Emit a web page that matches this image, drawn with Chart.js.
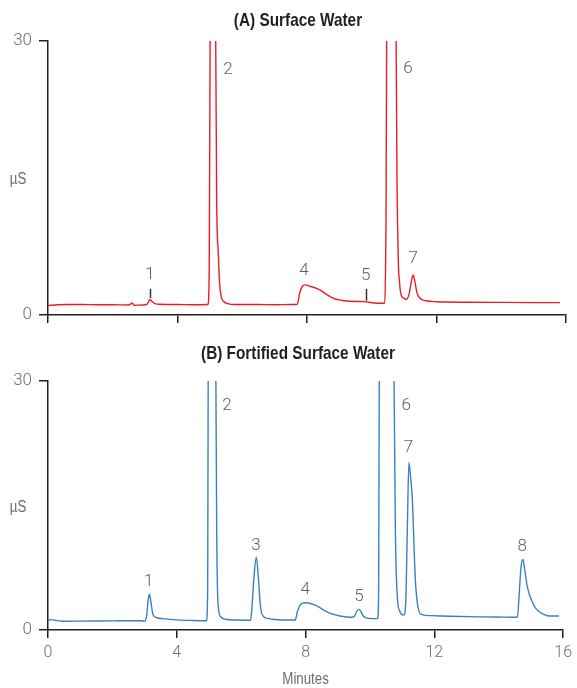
<!DOCTYPE html>
<html>
<head>
<meta charset="utf-8">
<script src="https://cdn.jsdelivr.net/npm/chart.js@4"></script>
<style>
  html, body { margin: 0; padding: 0; background: #ffffff; }
  .panel { position: absolute; left: 0; width: 577px; }
</style>
</head>
<body>
<div class="panel" style="top:0;height:340px"><canvas id="cA" width="577" height="340" style="width:577px;height:340px"></canvas></div>
<div class="panel" style="top:330px;height:358px"><canvas id="cB" width="577" height="358" style="width:577px;height:358px"></canvas></div>
<script>
// ---------- DATA ----------
const titleA = "(A) Surface Water";
const titleB = "(B) Fortified Surface Water";
const xTicks = [0, 4, 8, 12, 16];
const yTicks = [0, 30];
const xAxisTitle = "Minutes";
const yAxisTitle = "µS";

// Panel A trace (minutes, µS)
const timeA = [0.00,0.30,0.60,1.00,1.50,2.00,2.50,2.60,2.66,2.75,3.05,3.10,3.15,3.22,3.30,3.45,4.00,4.50,4.94,4.98,5.05,5.08,5.14,5.21,5.26,5.30,5.35,5.42,5.55,5.80,6.50,7.00,7.50,7.70,7.78,7.86,7.94,8.10,8.40,8.60,8.80,9.00,9.22,9.50,9.79,10.00,10.25,10.38,10.44,10.50,10.62,10.70,10.78,10.82,10.86,10.90,10.97,11.08,11.16,11.23,11.28,11.33,11.40,11.49,11.60,11.70,12.00,12.31,13.00,14.00,15.00,15.81];
const valueA = [1.05,1.12,1.15,1.15,1.13,1.12,1.10,1.32,1.05,1.08,1.15,1.40,1.70,1.45,1.25,1.18,1.15,1.13,1.15,5.0,70,75,55,12.6,6.8,3.5,2.0,1.5,1.25,1.15,1.15,1.12,1.15,1.18,2.5,3.15,3.30,3.15,2.75,2.25,1.85,1.65,1.53,1.48,1.46,1.35,1.28,1.28,10,70,90,60,15,6.0,3.5,2.3,1.9,1.72,2.4,3.8,4.38,3.7,2.4,1.83,1.62,1.53,1.45,1.42,1.40,1.38,1.36,1.35];

// Panel B trace (minutes, µS)
const timeB = [0.00,0.10,0.25,0.45,1.00,2.00,2.90,3.00,3.06,3.11,3.15,3.20,3.25,3.32,3.40,3.56,4.00,4.50,4.92,4.96,5.00,5.10,5.18,5.24,5.28,5.36,5.52,5.80,6.29,6.33,6.40,6.47,6.53,6.60,6.70,6.85,6.96,7.30,7.68,7.75,7.85,7.99,8.30,8.50,8.71,9.07,9.43,9.52,9.58,9.66,9.72,9.79,9.95,10.24,10.27,10.32,10.50,10.68,10.79,10.85,10.93,11.05,11.11,11.16,11.21,11.26,11.32,11.37,11.41,11.49,11.59,11.90,12.50,13.50,14.20,14.58,14.63,14.69,14.75,14.81,14.87,14.95,15.04,15.15,15.30,15.45,15.56,15.87];
const valueB = [1.18,1.25,1.15,1.06,1.07,1.10,1.12,1.05,1.6,3.6,4.3,3.3,2.0,1.6,1.45,1.37,1.22,1.15,1.12,5,70,80,55,12,3.2,1.6,1.29,1.2,1.18,2.5,6.5,8.76,6.5,2.8,1.6,1.38,1.29,1.2,1.2,2.3,3.1,3.29,3.0,2.55,2.09,1.69,1.53,1.65,2.2,2.49,2.2,1.69,1.40,1.37,5,70,90,60,12,4.0,2.2,1.8,3.2,12,20.2,18.5,15.5,10,6.0,2.8,1.89,1.73,1.65,1.58,1.55,1.53,4.0,7.5,8.5,7.2,5.6,4.3,3.4,2.6,2.09,1.8,1.69,1.69];

// Peak labels (position in minutes / µS)
const peakNamesA = ["1","2","4","5","6","7"];
const peakXA = [3.15,5.56,7.91,9.81,11.12,11.28];
const peakYA = [4.38,26.84,4.82,4.27,26.95,6.13];
// small marker strokes under labels 1 and 5 in panel A
const markXA = [3.15,9.81];
const markTopA = [2.85,2.85];
const markBotA = [1.86,1.57];

const peakNamesB = ["1","2","3","4","5","6","7","8"];
const peakXB = [3.13,5.56,6.46,7.99,9.66,11.13,11.20,14.73];
const peakYB = [5.8,27.0,10.2,4.82,4.0,27.0,21.9,10.0];

// ---------- STYLE ----------
const AXIS = "#231f20";
const GRAYTXT = "#6d6d6d";
const NUMFONT = "Roboto, 'Liberation Sans', sans-serif";
const SANS = "'Liberation Sans', Arial, sans-serif";
const CONDENSE = 0.83;

function condensedText(ctx, txt, x, y) {
  ctx.save();
  ctx.translate(x, y);
  ctx.scale(CONDENSE, 1);
  ctx.fillText(txt, 0, 0);
  ctx.restore();
}

function textPlugin(cfg) {
  return {
    id: 'panelText' + cfg.key,
    afterDraw(chart) {
      const ctx = chart.ctx;
      const xs = chart.scales.x, ys = chart.scales.y;
      const ca = chart.chartArea;
      ctx.save();
      ctx.textAlign = "center";
      ctx.textBaseline = "middle";
      // title
      ctx.fillStyle = "#231f20";
      ctx.font = "bold 18.5px " + SANS;
      condensedText(ctx, cfg.title, 298, cfg.titleY);
      // y-axis title (horizontal)
      ctx.fillStyle = GRAYTXT;
      ctx.font = "16px " + SANS;
      condensedText(ctx, yAxisTitle, 18, (ca.top + ca.bottom) / 2 + 2);
      // x-axis title
      if (cfg.xTitle) {
        condensedText(ctx, xAxisTitle, (ca.left + ca.right) / 2, cfg.xTitleY);
      }
      // peak labels
      ctx.font = "300 17px " + NUMFONT;
      ctx.fillStyle = "#5f5f5f";
      cfg.names.forEach((n, i) => {
        ctx.fillText(n, xs.getPixelForValue(cfg.px[i]), ys.getPixelForValue(cfg.py[i]));
      });
      // marker strokes
      if (cfg.mx) {
        ctx.strokeStyle = "#333333";
        ctx.lineWidth = 1.5;
        cfg.mx.forEach((x, i) => {
          const px = Math.round(xs.getPixelForValue(x)) + 0.5;
          ctx.beginPath();
          ctx.moveTo(px, ys.getPixelForValue(cfg.mt[i]));
          ctx.lineTo(px, ys.getPixelForValue(cfg.mb[i]));
          ctx.stroke();
        });
      }
      ctx.restore();
    }
  };
}

function makeChart(id, times, values, color, opts) {
  const pts = times.map((t, i) => ({ x: t, y: values[i] }));
  return new Chart(document.getElementById(id), {
    type: 'line',
    data: { datasets: [{ data: pts, borderColor: color, borderWidth: 1.4, pointRadius: 0, fill: false, cubicInterpolationMode: 'monotone' }] },
    options: {
      responsive: false,
      animation: false,
      devicePixelRatio: 1,
      layout: { padding: { top: opts.padTop, right: 11, left: 0, bottom: 0 } },
      plugins: { legend: { display: false }, tooltip: { enabled: false }, title: { display: false } },
      scales: {
        x: {
          type: 'linear', min: xTicks[0], max: xTicks[xTicks.length - 1],
          afterBuildTicks: s => { s.ticks = xTicks.map(v => ({ value: v })); },
          ticks: { display: opts.showXLabels, padding: 5, color: GRAYTXT, font: { family: NUMFONT, size: 16, weight: '300' }, maxRotation: 0, autoSkip: false },
          grid: { drawOnChartArea: false, drawTicks: true, tickLength: 8, color: AXIS, lineWidth: 1.5 },
          border: { display: true, color: AXIS, width: 1.5 },
          afterFit: s => { s.height = opts.xHeight; }
        },
        y: {
          min: yTicks[0], max: yTicks[yTicks.length - 1],
          afterBuildTicks: s => { s.ticks = yTicks.map(v => ({ value: v })); },
          ticks: { padding: 7, color: GRAYTXT, font: { family: NUMFONT, size: 17, weight: '300' } },
          grid: { drawOnChartArea: false, drawTicks: true, tickLength: 9, color: AXIS, lineWidth: 1.5 },
          border: { display: true, color: AXIS, width: 1.5 },
          afterFit: s => { s.width = 48; }
        }
      }
    },
    plugins: [textPlugin(opts.text)]
  });
}

makeChart('cA', timeA, valueA, "#ec1c24", {
  padTop: 41, xHeight: 25, showXLabels: false,
  text: { key: 'A', title: titleA, titleY: 21, names: peakNamesA, px: peakXA, py: peakYA, mx: markXA, mt: markTopA, mb: markBotA }
});
makeChart('cB', timeB, valueB, "#3b80c3", {
  padTop: 51, xHeight: 58, showXLabels: true,
  text: { key: 'B', title: titleB, titleY: 24, names: peakNamesB, px: peakXB, py: peakYB, xTitle: true, xTitleY: 350 }
});
</script>
</body>
</html>
